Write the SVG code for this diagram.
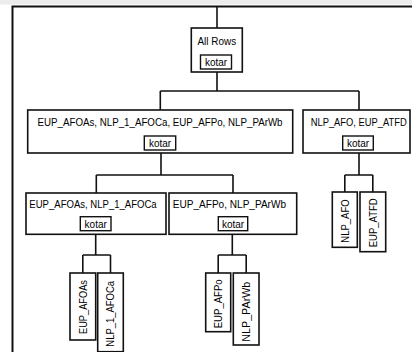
<svg xmlns="http://www.w3.org/2000/svg" width="412" height="352" viewBox="0 0 412 352">
<style>
text{font-family:"Liberation Sans",Arial,sans-serif;font-size:10px;fill:#000}
.b{fill:#fff;stroke:#111;stroke-width:1.6}
.k{fill:#fff;stroke:#111;stroke-width:1.4}
.c{fill:none;stroke:#111;stroke-width:1.6}
.m{text-anchor:middle}
</style>
<rect x="0" y="0" width="412" height="352" fill="#fff"/>
<rect x="0" y="0" width="412" height="4.5" fill="#ececec"/>
<path d="M12.5 352V6.5H412" fill="none" stroke="#111" stroke-width="2"/>
<g id="connectors">
<path class="c" d="M217 6.5V28"/>
<path class="c" d="M217 72V91M160.3 91H359M160.3 91V110M359 91V110"/>
<path class="c" d="M161 153V175M96.3 175H233M96.3 175V193M233 175V193"/>
<path class="c" d="M359 153V175M344.8 175H372.8M344.8 175V192M372.8 175V192"/>
<path class="c" d="M95.7 234V255M82.8 255H110.5M82.8 255V273M110.5 255V273"/>
<path class="c" d="M232.3 234V255M218.2 255H246.2M218.2 255V273M246.2 255V273"/>
</g>
<g id="root">
<rect class="b" x="191.3" y="28" width="51" height="44"/>
<text class="m" x="216.8" y="45" textLength="38.6" lengthAdjust="spacingAndGlyphs">All Rows</text>
<rect class="k" x="200.5" y="55" width="31" height="14"/>
<text class="m" x="216" y="66">kotar</text>
</g>
<g id="n1">
<rect class="b" x="27.7" y="110" width="265" height="43"/>
<text class="m" x="160" y="126" textLength="245" lengthAdjust="spacingAndGlyphs">EUP_AFOAs, NLP_1_AFOCa, EUP_AFPo, NLP_PArWb</text>
<rect class="k" x="144.3" y="136" width="31.4" height="14"/>
<text class="m" x="160" y="147">kotar</text>
</g>
<g id="n2">
<rect class="b" x="303" y="110" width="107" height="43"/>
<text class="m" x="358.7" y="126" textLength="96" lengthAdjust="spacingAndGlyphs">NLP_AFO, EUP_ATFD</text>
<rect class="k" x="342.7" y="136" width="30.6" height="14"/>
<text class="m" x="358" y="147">kotar</text>
</g>
<g id="n3">
<rect class="b" x="26" y="193" width="140" height="41.3"/>
<text class="m" x="93" y="208" textLength="127.3" lengthAdjust="spacingAndGlyphs">EUP_AFOAs, NLP_1_AFOCa</text>
<rect class="k" x="80.3" y="216.7" width="30.7" height="14"/>
<text class="m" x="95.7" y="227.7">kotar</text>
</g>
<g id="n4">
<rect class="b" x="169" y="193" width="127.7" height="41.3"/>
<text class="m" x="229.4" y="208" textLength="113.3" lengthAdjust="spacingAndGlyphs">EUP_AFPo, NLP_PArWb</text>
<rect class="k" x="218.3" y="216.7" width="29.4" height="14"/>
<text class="m" x="233" y="227.7">kotar</text>
</g>
<g id="leaf1">
<rect class="b" x="70" y="273" width="25.7" height="67"/>
<text class="m" transform="translate(86.5 307) rotate(-90)" textLength="54" lengthAdjust="spacingAndGlyphs">EUP_AFOAs</text>
</g>
<g id="leaf2">
<rect class="b" x="97.7" y="273" width="25.6" height="78.7"/>
<text class="m" transform="translate(114.2 313.8) rotate(-90)" textLength="65.7" lengthAdjust="spacingAndGlyphs">NLP_1_AFOCa</text>
</g>
<g id="leaf3">
<rect class="b" x="205.7" y="273" width="25" height="58.7"/>
<text class="m" transform="translate(221.9 303.8) rotate(-90)" textLength="49" lengthAdjust="spacingAndGlyphs">EUP_AFPo</text>
</g>
<g id="leaf4">
<rect class="b" x="233.3" y="273" width="25.7" height="72"/>
<text class="m" transform="translate(249.9 311.7) rotate(-90)" textLength="60" lengthAdjust="spacingAndGlyphs">NLP_PArWb</text>
</g>
<g id="leaf5">
<rect class="b" x="332.3" y="192" width="25" height="55.3"/>
<text class="m" transform="translate(348.5 221) rotate(-90)" textLength="43.3" lengthAdjust="spacingAndGlyphs">NLP_AFO</text>
</g>
<g id="leaf6">
<rect class="b" x="360" y="192" width="25.7" height="59.7"/>
<text class="m" transform="translate(376.5 222.8) rotate(-90)" textLength="49" lengthAdjust="spacingAndGlyphs">EUP_ATFD</text>
</g>
</svg>
